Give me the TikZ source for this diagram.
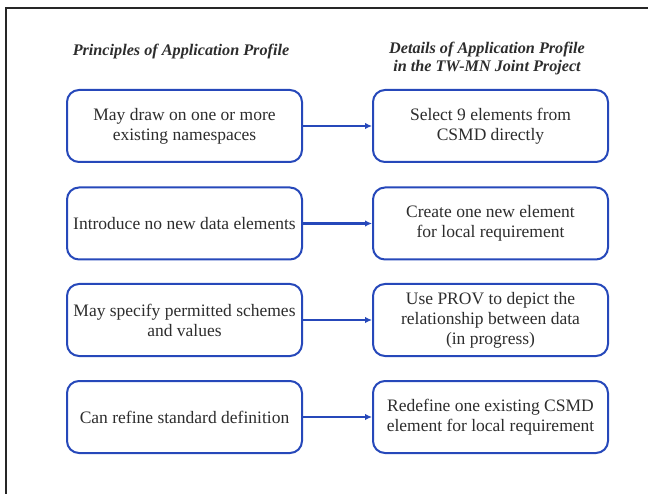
\documentclass[tikz,border=0pt]{standalone}
\usepackage{fontspec}
\setmainfont{Liberation Serif}
\usetikzlibrary{arrows.meta}
\definecolor{boxblue}{RGB}{38,72,186}
\definecolor{txt}{RGB}{45,45,45}
\tikzset{
  pbox/.style={draw=boxblue, line width=2pt, rounded corners=12pt, minimum width=235pt, minimum height=72pt, align=center, text=txt, font=\fontsize{17.5}{20}\selectfont, inner sep=0pt},
  hdr/.style={align=center, text=txt, font=\fontsize{16.2}{18}\selectfont\bfseries\itshape, inner sep=0pt},
  conn/.style={draw=boxblue, line width=2.4pt, -{Latex[length=7pt,width=6.5pt]}},
  frame/.style={line width=2pt, draw=black!85}
}
\begin{document}
\begin{tikzpicture}[x=1pt,y=-1pt]
\useasboundingbox (0,0) rectangle (648,494);
\coordinate (fa) at (5.5,494);
\coordinate (fb) at (5.5,8);
\coordinate (fc) at (648,8);
\draw[frame] (fa) -- (fb) -- (fc);
\node[hdr] (h1) at (181,52) {Principles of Application Profile};
\node[hdr] (h2) at (487,59) {Details of Application Profile\\in the TW-MN Joint Project};
\node[pbox] (l1) at (184.5,126) {May draw on one or more\\existing namespaces};
\node[pbox] (r1) at (490.5,126) {Select 9 elements from\\CSMD directly};
\node[pbox] (l2) at (184.5,223.5) {Introduce no new data elements};
\node[pbox] (r2) at (490.5,223.5) {Create one new element\\for local requirement};
\node[pbox] (l3) at (184.5,320) {May specify permitted schemes\\and values};
\node[pbox] (r3) at (490.5,320) {Use PROV to depict the\\relationship between data\\(in progress)};
\node[pbox] (l4) at (184.5,417) {Can refine standard definition};
\node[pbox] (r4) at (490.5,417) {Redefine one existing CSMD\\element for local requirement};
\draw[conn] (l1) -- (r1);
\draw[conn] (l2) -- (r2);
\draw[conn] (l3) -- (r3);
\draw[conn] (l4) -- (r4);
\end{tikzpicture}
\end{document}
